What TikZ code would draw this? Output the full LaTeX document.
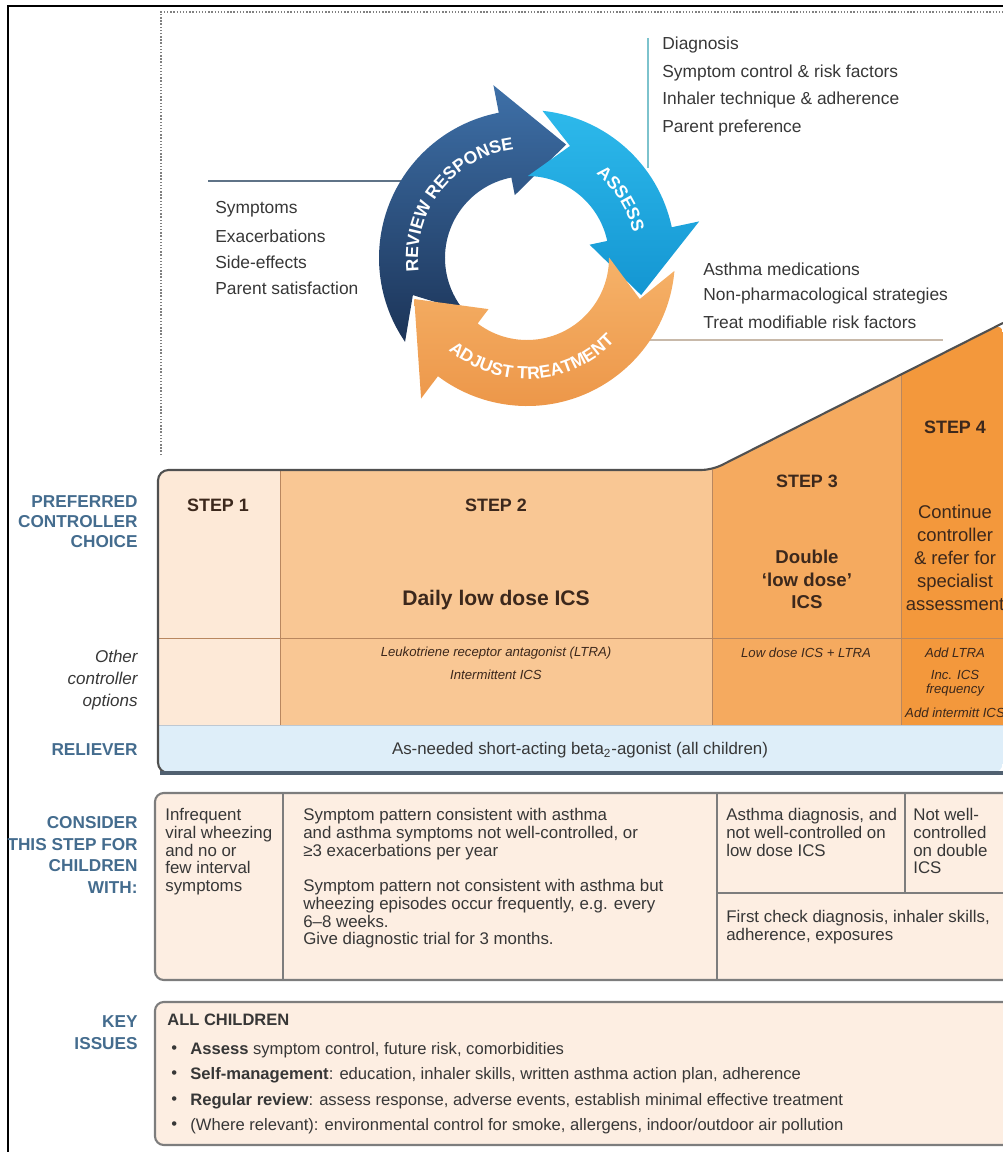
\documentclass[tikz,border=0pt]{standalone}
\usepackage{fontspec}
\setmainfont{Liberation Sans}
\usetikzlibrary{decorations.text}

\definecolor{lblue}{RGB}{68,108,142}
\definecolor{stepone}{RGB}{253,233,215}
\definecolor{steptwo}{RGB}{249,199,148}
\definecolor{stepthree}{RGB}{245,170,95}
\definecolor{stepfour}{RGB}{243,152,60}
\definecolor{relief}{RGB}{222,238,249}
\definecolor{consfill}{RGB}{253,238,226}
\definecolor{txt}{RGB}{55,55,55}
\definecolor{steptxt}{RGB}{60,40,28}
\definecolor{divl}{RGB}{185,135,95}
\definecolor{boxgrey}{RGB}{125,125,125}
\definecolor{navytop}{RGB}{62,112,168}
\definecolor{navybot}{RGB}{28,52,88}
\definecolor{cyantop}{RGB}{45,185,235}
\definecolor{cyanbot}{RGB}{20,150,210}
\definecolor{orgtop}{RGB}{246,178,105}
\definecolor{orgbot}{RGB}{236,150,72}
\definecolor{tealline}{RGB}{125,195,205}
\definecolor{slateline}{RGB}{95,115,135}
\definecolor{tanline}{RGB}{200,185,170}
\definecolor{reliefedge}{RGB}{190,200,210}
\definecolor{outline}{RGB}{80,80,80}
\definecolor{reliefbase}{RGB}{80,96,112}

\begin{document}
\begin{tikzpicture}[x=0.02cm,y=-0.02cm,
  lbl/.style={anchor=east,align=right,inner sep=0pt,text=lblue,
    font=\fontsize{9.8}{11.4}\selectfont\bfseries},
  lbli/.style={anchor=north east,align=right,inner sep=0pt,text=txt,
    font=\fontsize{9.7}{12.5}\selectfont\itshape},
  lst/.style={anchor=west,inner sep=0pt,text=txt,font=\fontsize{9.9}{11}\selectfont},
  steptitle/.style={inner sep=0pt,text=steptxt,font=\fontsize{10.2}{12}\selectfont\bfseries},
  opt/.style={inner sep=0pt,text=steptxt,font=\fontsize{7.5}{9}\selectfont\itshape},
  body/.style={anchor=north west,align=left,inner sep=0pt,text=txt,
    font=\fontsize{9.6}{10.1}\selectfont},
  keyline/.style={anchor=west,inner sep=0pt,text=txt,font=\fontsize{9.45}{11}\selectfont},
  divider/.style={draw=divl,line width=0.5pt},
  consline/.style={draw=boxgrey,line width=0.6pt},
  arctext/.style={decorate,decoration={text along path,text align=center,
    text color=white,text={|\fontsize{10}{11}\selectfont\bfseries|#1}}}
]
\useasboundingbox (0,0) rectangle (1003,1152);

% outer frame and dotted guide
\draw[line width=1.3pt] (8,1152) -- (8,6) -- (1003,6);
\draw[gray,densely dotted,line width=0.8pt] (161,455) -- (161,12) -- (1003,12);

% ---------- management cycle ----------
\draw[tealline,line width=1.2pt] (648,38) coordinate (tl1) -- (648,168) coordinate (tl2);
\draw[slateline,line width=1.4pt] (208,181) coordinate (sl1) -- (405,181) coordinate (sl2);
\draw[tanline,line width=1.4pt] (645,340) coordinate (ol1) -- (943,340) coordinate (ol2);

\begin{scope}[shift={(527,258)},y=0.02cm]
  % review response
  \shade[top color=navytop,bottom color=navybot]
    (214.5:148) arc[start angle=214.5,end angle=101,radius=148] -- (101:176) -- (71:120)
    -- (101:64) -- (101:82) arc[start angle=101,end angle=220.4,radius=82] -- (198:120) -- cycle;
  % assess
  \shade[top color=cyantop,bottom color=cyanbot]
    (84:148) arc[start angle=84,end angle=12,radius=148] -- (12:176) -- (-18:120)
    -- (12:64) -- (12:82) arc[start angle=12,end angle=89.4,radius=82] -- (69:120) -- cycle;
  % adjust treatment
  \shade[top color=orgtop,bottom color=orgbot]
    (-5:148) arc[start angle=-5,end angle=-127,radius=148] -- (-127:176) -- (-160:120)
    -- (-127:64) -- (-127:82) arc[start angle=-127,end angle=0.4,radius=82] -- (-20:120) -- cycle;
  \path[arctext={REVIEW RESPONSE}]
    (195:109) arc[start angle=195,end angle=89,radius=109];
  \path[arctext={ASSESS}]
    (62:109) arc[start angle=62,end angle=2,radius=109];
  \path[arctext={ADJUST TREATMENT}]
    (213:121) arc[start angle=213,end angle=333,radius=121];
\end{scope}

\node[lst] (a1) at (662,45) {Diagnosis};
\node[lst] (a2) at (662,73) {Symptom control \& risk factors};
\node[lst] (a3) at (662,100) {Inhaler technique \& adherence};
\node[lst] (a4) at (662,128) {Parent preference};

\node[lst] (r1) at (215,209) {Symptoms};
\node[lst] (r2) at (215,236) {Exacerbations};
\node[lst] (r3) at (215,262) {Side-effects};
\node[lst] (r4) at (215,288) {Parent satisfaction};

\node[lst] (t1) at (703,269) {Asthma medications};
\node[lst] (t2) at (703,296) {Non-pharmacological strategies};
\node[lst] (t3) at (703,322) {Treat modifiable risk factors};

% ---------- stepwise controller table ----------
\begin{scope}
  \clip[rounded corners=6] (158,773) -- (158,470) -- (712,470) -- (1003,323) -- (1003,773) -- cycle;
  \fill[stepone] (150,460) rectangle (280,725);
  \fill[steptwo] (280,460) rectangle (712,725);
  \fill[stepthree] (712,300) rectangle (901,725);
  \fill[stepfour] (901,300) rectangle (1010,725);
  \fill[relief] (150,725) rectangle (1010,780);
\end{scope}
\draw[divider] (280,470) -- (280,725);
\draw[divider] (712,470) -- (712,725);
\draw[divider] (901,374) -- (901,725);
\draw[divider] (158,638) -- (1003,638);
\draw[reliefedge,line width=0.5pt] (158,725) -- (1003,725);
\draw[outline,line width=1.2pt,rounded corners=6]
  (1003,773) -- (158,773) -- (158,470) -- (712,470) -- (1003,323);
\draw[reliefbase,line width=1.8pt] (160,773) -- (1003,773);

\node[steptitle] (s1) at (218,505) {STEP 1};
\node[steptitle] (s2) at (496,505) {STEP 2};
\node[steptitle] (s3) at (807,481) {STEP 3};
\node[steptitle] (s4) at (955,427) {STEP 4};

\node[inner sep=0pt,text=steptxt,font=\fontsize{12}{14}\selectfont\bfseries] (p2) at (496,600) {Daily low dose ICS};
\node[inner sep=0pt,text=steptxt,align=center,anchor=north,
  font=\fontsize{10.6}{12.8}\selectfont\bfseries] (p3) at (807,550) {Double\\‘low dose’\\ICS};
\node[inner sep=0pt,text=steptxt,align=center,anchor=north,
  font=\fontsize{10.5}{13}\selectfont] (p4) at (955,505) {Continue\\controller\\\& refer for\\specialist\\assessment};

\node[opt] (o2a) at (496,653) {Leukotriene receptor antagonist (LTRA)};
\node[opt] (o2b) at (496,675) {Intermittent ICS};
\node[opt] (o3) at (806,653) {Low dose ICS + LTRA};
\node[opt] (o4a) at (955,653) {Add LTRA};
\node[opt] (o4b) at (955,675) {Inc. ICS};
\node[opt] (o4c) at (955,690) {frequency};
\node[opt] (o4d) at (955,713) {Add intermitt ICS};

\node[inner sep=0pt,text=txt,font=\fontsize{9.6}{11}\selectfont] (rel) at (580,750)
  {As-needed short-acting beta\textsubscript{2}-agonist (all children)};

% row labels
\node[lbl] (lpc) at (138,522) {PREFERRED\\CONTROLLER\\CHOICE};
\node[lbli] (loc) at (138,650) {Other\\controller\\options};
\node[lbl] (lrl) at (138,750) {RELIEVER};
\node[lbl,font=\fontsize{9.8}{12.3}\selectfont\bfseries] (lcs) at (138,855) {CONSIDER\\THIS STEP FOR\\CHILDREN\\WITH:};
\node[lbl,font=\fontsize{9.8}{12.5}\selectfont\bfseries] (lki) at (138,1033) {KEY\\ISSUES};

% ---------- consider this step ----------
\draw[draw=boxgrey,line width=1.2pt,fill=consfill,rounded corners=5] (155,793) rectangle (1015,980);
\draw[consline] (283,793) -- (283,980);
\draw[consline] (717,793) -- (717,980);
\draw[consline] (905,793) -- (905,893);
\draw[consline] (717,893) -- (1003,893);

\node[body] (c1) at (165,808) {Infrequent\\viral wheezing\\and no or\\few interval\\symptoms};
\node[body] (c2a) at (303,808) {Symptom pattern consistent with asthma\\and asthma symptoms not well-controlled, or\\≥3 exacerbations per year};
\node[body] (c2b) at (303,879) {Symptom pattern not consistent with asthma but\\wheezing episodes occur frequently, e.g. every\\6–8 weeks.\\Give diagnostic trial for 3 months.};
\node[body] (c3) at (726,808) {Asthma diagnosis, and\\not well-controlled on\\low dose ICS};
\node[body] (c4) at (913,808) {Not well-\\controlled\\on double\\ICS};
\node[body] (c5) at (726,910) {First check diagnosis, inhaler skills,\\adherence, exposures};

% ---------- key issues ----------
\draw[draw=boxgrey,line width=1.2pt,fill=consfill,rounded corners=5] (155,1002) rectangle (1015,1145);
\node[anchor=west,inner sep=0pt,text=txt,font=\fontsize{9.4}{10}\selectfont\bfseries] (kh) at (167,1020) {ALL CHILDREN};
\foreach \yy in {1050,1075,1101,1126}
  \node[keyline] at (171,\yy) {•};
\node[keyline] (k1) at (190,1050) {\textbf{Assess} symptom control, future risk, comorbidities};
\node[keyline] (k2) at (190,1075) {\textbf{Self-management}: education, inhaler skills, written asthma action plan, adherence};
\node[keyline] (k3) at (190,1101) {\textbf{Regular review}: assess response, adverse events, establish minimal effective treatment};
\node[keyline] (k4) at (190,1126) {(Where relevant): environmental control for smoke, allergens, indoor/outdoor air pollution};
\end{tikzpicture}
\end{document}
